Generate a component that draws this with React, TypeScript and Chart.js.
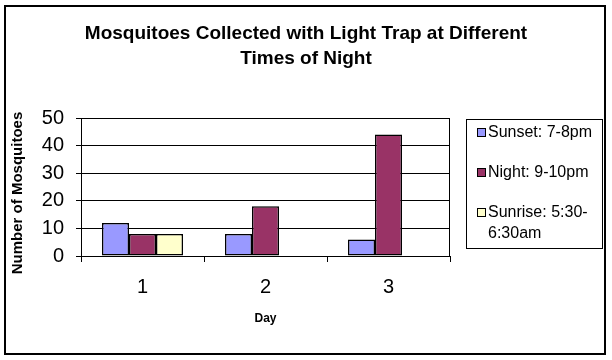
import React, { useEffect, useRef } from 'react';
import { Chart, registerables } from 'chart.js';

Chart.register(...registerables);

const FONT = '"Liberation Sans", Arial, Helvetica, sans-serif';

const titleLines = ['Mosquitoes Collected with Light Trap at Different', 'Times of Night'];
const days = ['1', '2', '3'];
const seriesNames = ['Sunset: 7-8pm', 'Night: 9-10pm', 'Sunrise: 5:30-6:30am'];
const sunsetCounts = [12, 8, 6];
const nightCounts = [8, 18, 44];
const sunriseCounts = [8, 0, 0];
const yTickValues = [0, 10, 20, 30, 40, 50];
const xAxisTitle = 'Day';
const yAxisTitle = 'Number of Mosquitoes';
const seriesColors = ['#9999FF', '#993366', '#FFFFCC'];

function wrapText(ctx: CanvasRenderingContext2D, text: string, maxWidth: number): string[] {
  const tokens = text.match(/[^\s-]+[\s-]*/g) || [text];
  const lines: string[] = [];
  let cur = '';
  for (const t of tokens) {
    const test = cur + t;
    if (cur && ctx.measureText(test.trimEnd()).width > maxWidth) {
      lines.push(cur.trimEnd());
      cur = t;
    } else {
      cur = test;
    }
  }
  if (cur) lines.push(cur.trimEnd());
  return lines;
}

const decorations = {
  id: 'decorations',
  beforeDraw(chart: any) {
    const ctx = chart.ctx as CanvasRenderingContext2D;
    ctx.save();
    ctx.fillStyle = '#ffffff';
    ctx.fillRect(0, 0, chart.width, chart.height);
    ctx.restore();
  },
  afterDraw(chart: any) {
    const ctx = chart.ctx as CanvasRenderingContext2D;
    const area = chart.chartArea;
    ctx.save();
    // outer frame
    ctx.strokeStyle = '#000';
    ctx.lineWidth = 2;
    ctx.strokeRect(5, 6, 600, 348);

    // plot area right edge
    ctx.lineWidth = 1;
    ctx.beginPath();
    ctx.moveTo(Math.round(area.right) - 0.5, Math.round(area.top));
    ctx.lineTo(Math.round(area.right) - 0.5, Math.round(area.bottom));
    ctx.stroke();

    // title
    ctx.fillStyle = '#000';
    ctx.font = `bold 19px ${FONT}`;
    ctx.textAlign = 'center';
    ctx.textBaseline = 'middle';
    titleLines.forEach((line, i) => ctx.fillText(line, 306, 34 + i * 25));

    // y axis title
    ctx.save();
    ctx.translate(18, 193);
    ctx.rotate(-Math.PI / 2);
    ctx.font = `bold 15px ${FONT}`;
    ctx.fillText(yAxisTitle, 0, 0);
    ctx.restore();

    // legend
    ctx.strokeRect(466.5, 119.5, 136, 129);
    ctx.font = `16px ${FONT}`;
    ctx.textAlign = 'left';
    chart.data.datasets.forEach((ds: any, i: number) => {
      const cy = 133 + i * 40;
      ctx.fillStyle = ds.backgroundColor;
      ctx.fillRect(477, cy - 4, 8, 8);
      ctx.strokeStyle = '#000';
      ctx.strokeRect(477.5, cy - 4.5, 8, 8);
      ctx.fillStyle = '#000';
      const lines = wrapText(ctx, ds.label, 110);
      lines.forEach((l, j) => ctx.fillText(l, 488, cy + j * 21));
    });
    ctx.restore();
  },
};

export default function App() {
  const ref = useRef<HTMLCanvasElement | null>(null);
  useEffect(() => {
    document.body.style.margin = '0';
    const canvas = ref.current;
    if (!canvas) return;
    const mk = (i: number, data: number[]) => ({
      label: seriesNames[i],
      data,
      backgroundColor: seriesColors[i],
      borderColor: '#000000',
      borderWidth: 1.5,
      borderSkipped: false,
      inflateAmount: 0,
      categoryPercentage: 81 / 123,
      barPercentage: 1,
    });
    const chart = new Chart(canvas, {
      type: 'bar',
      data: {
        labels: days,
        datasets: [mk(0, sunsetCounts), mk(1, nightCounts), mk(2, sunriseCounts)],
      },
      plugins: [decorations],
      options: {
        responsive: false,
        animation: false,
        devicePixelRatio: 1,
        layout: { padding: { top: 118, right: 162, bottom: 0, left: 0 } },
        plugins: {
          legend: { display: false },
          title: { display: false },
          tooltip: { enabled: false },
        },
        scales: {
          x: {
            offset: true,
            grid: { display: true, offset: true, drawOnChartArea: false, drawTicks: true, tickLength: 6, color: '#000' },
            border: { display: true, color: '#000', width: 1 },
            ticks: { font: { size: 20, family: FONT }, color: '#000', padding: 13 },
            title: {
              display: true,
              text: xAxisTitle,
              color: '#000',
              font: { size: 12, weight: 'bold', family: FONT },
              padding: { top: 0, bottom: 34 },
            },
            afterFit: (s: any) => { s.height = 104; },
          },
          y: {
            min: 0,
            max: 50,
            afterBuildTicks: (s: any) => { s.ticks = yTickValues.map((v) => ({ value: v })); },
            ticks: { font: { size: 20, family: FONT }, color: '#000', padding: 12 },
            grid: { color: '#000', lineWidth: 1, drawTicks: true, tickLength: 5 },
            border: { display: true, color: '#000', width: 1 },
            afterFit: (s: any) => { s.width = 81; },
          },
        },
      } as any,
    });
    return () => chart.destroy();
  }, []);
  return (
    <div style={{ width: 612, height: 360 }}>
      <canvas ref={ref} width={612} height={360} style={{ display: 'block' }} />
    </div>
  );
}
